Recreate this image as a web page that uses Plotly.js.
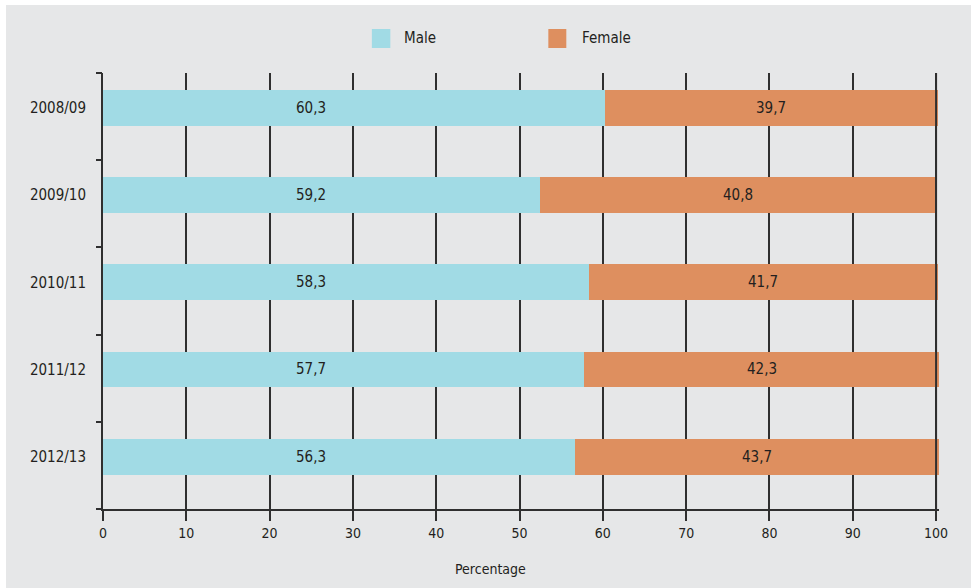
<!DOCTYPE html>
<html>
<head>
<meta charset="utf-8">
<script src="https://cdn.plot.ly/plotly-3.0.1.min.js"></script>
<style>
  html, body { margin: 0; padding: 0; background: #ffffff; }
  #chart { position: absolute; left: 6px; top: 5px; width: 965px; height: 583px; }
</style>
</head>
<body>
<div id="chart"></div>
<script>
// ---- Data ----
const years = ['2008/09', '2009/10', '2010/11', '2011/12', '2012/13'];
// Percentages printed on the bars
const maleShare = [60.3, 59.2, 58.3, 57.7, 56.3];
const femaleShare = [39.7, 40.8, 41.7, 42.3, 43.7];
// Bar extents as drawn in the picture (percentage axis)
const maleBar = [60.2, 52.5, 58.3, 57.7, 56.7];
const femaleBar = [40.0, 47.4, 41.9, 42.7, 43.7];
const xTicks = [0, 10, 20, 30, 40, 50, 60, 70, 80, 90, 100];

// ---- Styling ----
const FONT = "'Liberation Sans Narrow', 'DejaVu Sans Condensed', 'Arial Narrow', sans-serif";
const INK = '#231f20';
const LINE = '#2f2f2f';
const BG = '#e6e7e8';
const MALE = '#a1dbe5';
const FEMALE = '#de8f5f';

const fmt = v => v.toFixed(1).replace('.', ',');

const traces = [
  {
    type: 'bar', orientation: 'h', name: 'Male',
    y: years, x: maleBar,
    marker: { color: MALE, line: { width: 0 } },
    hoverinfo: 'skip', showlegend: false
  },
  {
    type: 'bar', orientation: 'h', name: 'Female',
    y: years, x: femaleBar,
    marker: { color: FEMALE, line: { width: 0 } },
    hoverinfo: 'skip', showlegend: false
  },
  {
    // carrier for the boundary tick axis
    type: 'scatter', x: [], y: [], yaxis: 'y2',
    hoverinfo: 'skip', showlegend: false
  }
];

const annotations = [];
years.forEach((yr, i) => {
  annotations.push({
    x: 25, y: yr, xref: 'x', yref: 'y',
    text: fmt(maleShare[i]), showarrow: false,
    font: { family: FONT, size: 15, color: INK },
    xanchor: 'center', yanchor: 'middle'
  });
  annotations.push({
    x: maleBar[i] + femaleBar[i] / 2, y: yr, xref: 'x', yref: 'y',
    text: fmt(femaleShare[i]), showarrow: false,
    font: { family: FONT, size: 15, color: INK },
    xanchor: 'center', yanchor: 'middle'
  });
});

// legend labels
annotations.push({
  x: 0.358, y: 1.0803, xref: 'paper', yref: 'paper', text: 'Male',
  showarrow: false, xanchor: 'left', yanchor: 'middle',
  font: { family: FONT, size: 15, color: INK }
});
annotations.push({
  x: 0.570, y: 1.0803, xref: 'paper', yref: 'paper', text: 'Female',
  showarrow: false, xanchor: 'left', yanchor: 'middle',
  font: { family: FONT, size: 15, color: INK }
});
// axis title
annotations.push({
  x: 0.4635, y: -0.1376, xref: 'paper', yref: 'paper', text: 'Percentage',
  showarrow: false, xanchor: 'center', yanchor: 'middle',
  font: { family: FONT, size: 14, color: INK }
});

const shapes = [
  // legend swatches
  { type: 'rect', xref: 'paper', yref: 'paper', x0: 0.3216, x1: 0.3437, y0: 1.0573, y1: 1.1009,
    fillcolor: MALE, line: { width: 0 } },
  { type: 'rect', xref: 'paper', yref: 'paper', x0: 0.5327, x1: 0.5542, y0: 1.0573, y1: 1.1009,
    fillcolor: FEMALE, line: { width: 0 } },
  // right frame line at 100 drawn over the bars
  { type: 'line', xref: 'x', yref: 'paper', x0: 100, x1: 100, y0: 0, y1: 1,
    line: { color: LINE, width: 2 }, layer: 'above' }
];

const layout = {
  width: 965, height: 583,
  margin: { l: 97, r: 32, t: 68, b: 79, pad: 0 },
  paper_bgcolor: BG, plot_bgcolor: BG,
  font: { family: FONT, color: INK },
  barmode: 'stack', bargap: 0.59,
  showlegend: false,
  hovermode: false,
  xaxis: {
    range: [0, 100.35], tickvals: xTicks, ticktext: xTicks.map(String),
    showgrid: true, gridcolor: LINE, gridwidth: 2,
    zeroline: false,
    showline: true, linecolor: LINE, linewidth: 2,
    ticks: 'outside', ticklen: 10, tickwidth: 2, tickcolor: LINE,
    tickfont: { family: FONT, size: 14, color: INK },
    layer: 'below traces', fixedrange: true
  },
  yaxis: {
    type: 'category', categoryorder: 'array', categoryarray: years,
    range: [4.6, -0.4],
    showgrid: false, zeroline: false,
    showline: true, linecolor: LINE, linewidth: 2,
    ticks: '', ticklabelstandoff: 12,
    tickfont: { family: FONT, size: 15, color: INK },
    layer: 'below traces', fixedrange: true
  },
  yaxis2: {
    overlaying: 'y', anchor: 'x', side: 'left', type: 'linear',
    range: [4.6, -0.4],
    tickvals: [-0.4, 0.6, 1.6, 2.6, 3.6, 4.6],
    showticklabels: false, showgrid: false, zeroline: false, showline: false,
    ticks: 'outside', ticklen: 6, tickwidth: 2, tickcolor: LINE,
    layer: 'below traces', fixedrange: true
  },
  annotations: annotations,
  shapes: shapes
};

Plotly.newPlot('chart', traces, layout, { displayModeBar: false, staticPlot: true });
</script>
</body>
</html>
